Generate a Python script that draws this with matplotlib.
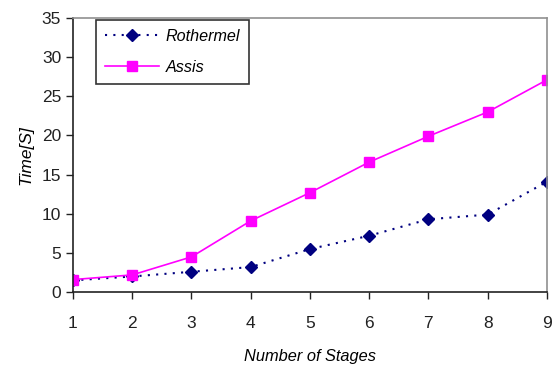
import numpy as np
import matplotlib.pyplot as plt

stages = [1, 2, 3, 4, 5, 6, 7, 8, 9]
rothermel = [1.5, 2.0, 2.6, 3.2, 5.5, 7.2, 9.3, 9.9, 14.1]
assis = [1.6, 2.2, 4.5, 9.1, 12.7, 16.6, 19.9, 23.0, 27.1]
y_ticks = [0, 5, 10, 15, 20, 25, 30, 35]

plt.rcParams['font.family'] = ['Liberation Sans', 'DejaVu Sans']

fig = plt.figure(figsize=(5.53, 3.67), dpi=100)
ax = fig.add_axes([0.132, 0.204, 0.857, 0.747])

ax.plot(stages, rothermel, color='#000080', linestyle=(0, (1, 3)), linewidth=1.5,
        marker='D', markersize=6, label='Rothermel')
ax.plot(stages, assis, color='#ff00ff', linestyle='-', linewidth=1.2,
        marker='s', markersize=7, label='Assis')

ax.set_xlim(1, 9)
ax.set_ylim(0, 35)
ax.set_xticks(stages)
ax.set_yticks(y_ticks)
ax.tick_params(direction='out', length=5, width=1, labelsize=12.5, colors='#222222')
ax.tick_params(axis='x', pad=12)

for side in ['left', 'bottom']:
    ax.spines[side].set_color('#222222')
    ax.spines[side].set_linewidth(1.2)
for side in ['top', 'right']:
    ax.spines[side].set_color('#909090')
    ax.spines[side].set_linewidth(1.2)

ax.set_xlabel('Number of Stages', style='italic', fontsize=11.8, labelpad=13)
ax.set_ylabel('Time[S]', style='italic', fontsize=12.5, labelpad=6)

leg = ax.legend(loc='upper left', bbox_to_anchor=(0.048, 0.993),
                prop={'style': 'italic', 'size': 11.6}, frameon=True, fancybox=False,
                edgecolor='black', borderaxespad=0, handlelength=3.4,
                handletextpad=0.4, labelspacing=1.0, borderpad=0.55)
leg.get_frame().set_linewidth(1.2)

fig.savefig('out.png', dpi=100)
